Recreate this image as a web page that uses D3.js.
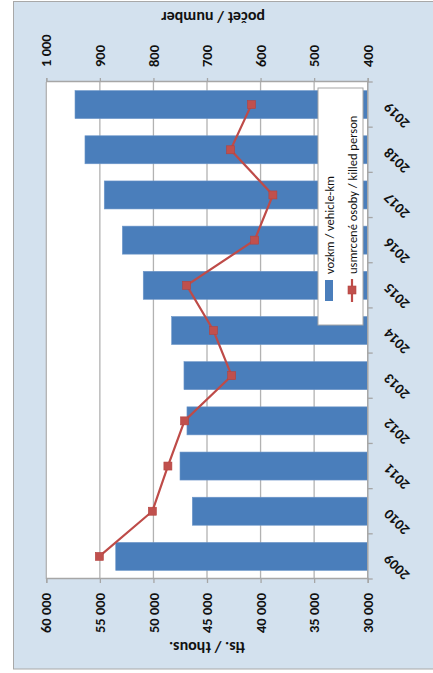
<!DOCTYPE html>
<html>
<head>
<meta charset="utf-8">
<script src="https://cdn.jsdelivr.net/npm/d3@7"></script>
<style>
html,body{margin:0;padding:0;background:#fff;}
svg{display:block;}
text{font-family:Calibri,Carlito,"Liberation Sans",Arial,sans-serif;}
</style>
</head>
<body>
<svg id="chart" width="433" height="673"></svg>
<script>
const years = ["2009","2010","2011","2012","2013","2014","2015","2016","2017","2018","2019"];
const vehicleKm = [53520, 46370, 47520, 46870, 47150, 48300, 50950, 52900, 54590, 56390, 57320];
const killed = [901, 802, 773, 742, 654, 688, 738, 611, 577, 656, 617];
const leftTicks = [30000, 35000, 40000, 45000, 50000, 55000, 60000];
const rightTicks = [400, 500, 600, 700, 800, 900, 1000];
const seriesNames = ["vozkm / vehicle-km", "usmrcené osoby / killed person"];
const leftTitle = "tis. / thous.";
const rightTitle = "počet / number";

const W = 673, H = 433;
const svg = d3.select("#chart");
// whole chart drawn in landscape orientation, then rotated 90° counter-clockwise
const g = svg.append("g").attr("transform", `translate(0,${W}) rotate(-90)`);

const fmt = v => d3.format(",")(v).replace(/,/g, " ");
const FONT = 'Calibri,Carlito,"Liberation Sans",Arial,sans-serif';

// chart area
g.append("rect").attr("x", 4).attr("y", 13.5).attr("width", 667.5).attr("height", 430)
  .attr("fill", "#d3e1ee").attr("stroke", "#a8a8a8").attr("stroke-width", 1);

const x0 = 94, x1 = 591, yTop = 46.3, yBot = 367.7;
const x = d3.scaleBand().domain(years).range([x0, x1]).paddingInner(0.38).paddingOuter(0.19);
const yL = d3.scaleLinear().domain([30000, 60000]).range([yBot, yTop]);
const yR = d3.scaleLinear().domain([400, 1000]).range([yBot, yTop]);

// plot area
g.append("rect").attr("x", x0).attr("y", yTop).attr("width", x1 - x0).attr("height", yBot - yTop)
  .attr("fill", "#ffffff");

// gridlines
g.append("g").selectAll("line").data(leftTicks).join("line")
  .attr("x1", x0).attr("x2", x1).attr("y1", d => yL(d)).attr("y2", d => yL(d))
  .attr("stroke", "#b2b2b2").attr("stroke-width", 1.3);

// bars
g.append("g").selectAll("rect").data(years).join("rect")
  .attr("x", d => x(d)).attr("width", x.bandwidth())
  .attr("y", (d, i) => yL(vehicleKm[i]))
  .attr("height", (d, i) => yL(30000) - yL(vehicleKm[i]))
  .attr("fill", "#4a7ebb").attr("stroke", "#6e97c9").attr("stroke-width", 0.6);

// axes
const axL = d3.axisLeft(yL).tickValues(leftTicks).tickSize(4).tickPadding(10).tickFormat(fmt);
const axR = d3.axisRight(yR).tickValues(rightTicks).tickSize(4).tickPadding(11).tickFormat(fmt);
const gL = g.append("g").attr("transform", `translate(${x0},0)`).call(axL);
const gR = g.append("g").attr("transform", `translate(${x1},0)`).call(axR);
[gL, gR].forEach(a => {
  a.select(".domain").attr("stroke", "#a6a6a6").attr("stroke-width", 1.3);
  a.selectAll(".tick line").attr("stroke", "#a6a6a6").attr("stroke-width", 1.3);
  a.selectAll(".tick text").attr("font-size", 14.5).attr("font-weight", "bold").attr("fill", "#111")
    .attr("font-family", FONT);
});

// category axis
const bounds = d3.range(years.length + 1).map(i => x0 + i * (x1 - x0) / years.length);
g.append("line").attr("x1", x0).attr("x2", x1).attr("y1", yBot).attr("y2", yBot)
  .attr("stroke", "#a6a6a6").attr("stroke-width", 1.3);
g.append("g").selectAll("line").data(bounds).join("line")
  .attr("x1", d => d).attr("x2", d => d).attr("y1", yBot).attr("y2", yBot + 5)
  .attr("stroke", "#a6a6a6").attr("stroke-width", 1.3);
g.append("g").selectAll("text").data(years).join("text")
  .attr("transform", d => `translate(${x(d) + x.bandwidth() / 2 + 3},${yBot + 22}) rotate(-45)`)
  .attr("text-anchor", "end").attr("font-size", 14.5).attr("font-weight", "bold").attr("fill", "#111")
  .text(d => d);

// line series
const cx = d => x(d) + x.bandwidth() / 2;
const line = d3.line().x((d, i) => cx(years[i])).y(d => yR(d));
g.append("path").datum(killed).attr("d", line).attr("fill", "none")
  .attr("stroke", "#be4b48").attr("stroke-width", 2.2);
g.append("g").selectAll("rect").data(killed).join("rect")
  .attr("x", (d, i) => cx(years[i]) - 4).attr("y", d => yR(d) - 4)
  .attr("width", 8).attr("height", 8)
  .attr("fill", "#c0504d").attr("stroke", "#b4433f").attr("stroke-width", 0.6);

// axis titles
g.append("text").attr("transform", `translate(26,207) rotate(-90)`)
  .attr("text-anchor", "middle").attr("dominant-baseline", "central")
  .attr("font-size", 16).attr("font-weight", "bold").attr("fill", "#111").text(leftTitle);
g.append("text").attr("transform", `translate(656,213) rotate(-90)`)
  .attr("text-anchor", "middle").attr("dominant-baseline", "central")
  .attr("font-size", 16).attr("font-weight", "bold").attr("fill", "#111").text(rightTitle);

// legend
const lg = g.append("g");
lg.append("rect").attr("x", 348).attr("y", 318).attr("width", 237).attr("height", 45)
  .attr("fill", "#ffffff").attr("stroke", "#a6a6a6").attr("stroke-width", 1);
lg.append("rect").attr("x", 372).attr("y", 325).attr("width", 21).attr("height", 8)
  .attr("fill", "#4a7ebb");
lg.append("line").attr("x1", 371).attr("x2", 394).attr("y1", 352).attr("y2", 352)
  .attr("stroke", "#be4b48").attr("stroke-width", 2.2);
lg.append("rect").attr("x", 379).attr("y", 348).attr("width", 8).attr("height", 8)
  .attr("fill", "#c0504d").attr("stroke", "#b4433f").attr("stroke-width", 0.6);
lg.selectAll("text.leg").data(seriesNames).join("text").attr("class", "leg")
  .attr("x", 399).attr("y", (d, i) => i === 0 ? 329 : 352)
  .attr("dominant-baseline", "central").attr("font-size", 12.5).attr("fill", "#111")
  .text(d => d);
</script>
</body>
</html>
